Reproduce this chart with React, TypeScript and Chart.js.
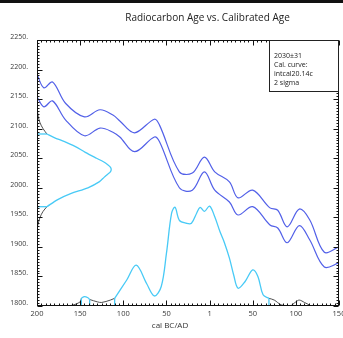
import React, { useEffect, useRef } from 'react';
import { Chart, registerables } from 'chart.js';

Chart.register(...registerables);

// ---- data ----
const titleText = 'Radiocarbon Age vs. Calibrated Age';
const xTitleText = 'cal BC/AD';
const legendLines = ['2030±31', 'Cal. curve:', 'intcal20.14c', '2 sigma'];

const X_MIN = -200;
const X_MAX = 150;
const Y_MIN = 1800;
const Y_MAX = 2250;
const X_MAJOR = 50;
const X_MINOR = 5;
const Y_MAJOR = 50;
const Y_MINOR = 5;

// calibration curve envelope (cal year, BC negative) -> 14C age
const calYears = [-200, -192, -182, -167, -145, -127, -112, -104, -87, -64, -58, -35, -20, -6, 6, 23, 33, 50, 70, 79, 90, 104, 116, 133, 150];
const calUpper = [2192, 2169, 2179, 2143, 2120, 2132, 2123, 2113, 2093, 2116, 2106, 2027, 2025, 2052, 2027, 2010, 1983, 1996, 1966, 1962, 1934, 1964, 1946, 1891, 1900];
const calLower = [2154, 2137, 2147, 2115, 2088, 2101, 2094, 2086, 2061, 2086, 2078, 2000, 1996, 2027, 1996, 1976, 1954, 1968, 1937, 1932, 1907, 1936, 1912, 1866, 1873];

// calibrated probability (height above baseline, in 14C-axis units)
const probYears = [-170, -160, -150, -148.6, -145, -141, -139, -130, -125, -115, -110, -96, -85, -73, -64, -56, -50, -44, -40, -35, -27, -21, -15, -11, -6, 0, 6, 12, 17, 23, 28, 33, 41, 50, 56, 62, 68.8, 75, 83, 93, 100, 104, 110, 118];
const probHeights = [0, 1, 7, 13, 16, 14, 11, 7, 6, 10, 13, 44, 69, 38, 17, 33, 89, 157, 167, 145, 140, 140, 157, 167, 160, 169, 151, 126, 108, 81, 52, 30, 41, 61, 50, 19, 13, 10, 2, 0, 7, 10, 6, 0];
const probIntervals = [[-148.6, -139], [-110, 68.8]];

// radiocarbon date distribution (14C age -> width in years from the left axis)
const c14Ages = [2135, 2128, 2120, 2110, 2100, 2091, 2085, 2078, 2070, 2060, 2050, 2044, 2039, 2035, 2031, 2027, 2023, 2018, 2010, 2000, 1990, 1980, 1968, 1960, 1950, 1940, 1932];
const c14Offsets = [0, 0.7, 1.5, 3.5, 7, 11.5, 20, 32, 44, 56, 69, 77, 82, 85, 86, 85, 82, 78, 72, 59, 39, 24, 11.5, 7, 3.5, 1.5, 0];
const c14RangeHigh = 2091;
const c14RangeLow = 1968;

const BLUE = 'rgb(82, 96, 232)';
const CYAN = 'rgb(72, 202, 246)';
const DARK = '#3a3a3a';
const FONT = '"Open Sans", "Noto Sans", sans-serif';

const framePlugin = {
  id: 'framePlugin',
  afterDatasetsDraw(chart: any) {
    const { ctx, chartArea, scales } = chart;
    const xs = scales.x;
    const ys = scales.y;
    const L = Math.round(chartArea.left) + 0.5;
    const R = Math.round(chartArea.right) - 0.5;
    const T = Math.round(chartArea.top) + 0.5;
    const B = Math.round(chartArea.bottom) - 0.5;
    ctx.save();
    ctx.strokeStyle = '#111';
    ctx.lineWidth = 1;
    ctx.beginPath();
    for (let v = X_MIN; v <= X_MAX; v += X_MINOR) {
      const px = Math.round(xs.getPixelForValue(v)) + 0.5;
      const len = v % X_MAJOR === 0 ? 5 : 2;
      ctx.moveTo(px, B); ctx.lineTo(px, B - len);
      ctx.moveTo(px, T); ctx.lineTo(px, T + len);
    }
    for (let v = Y_MIN; v <= Y_MAX; v += Y_MINOR) {
      const py = Math.round(ys.getPixelForValue(v)) + 0.5;
      const len = v % Y_MAJOR === 0 ? 5 : 2;
      ctx.moveTo(L, py); ctx.lineTo(L + len, py);
      ctx.moveTo(R, py); ctx.lineTo(R - len, py);
    }
    ctx.stroke();
    ctx.strokeRect(L, T, R - L, B - T);

    // legend box
    const bw = 69;
    const bh = 51;
    ctx.fillStyle = '#fff';
    ctx.fillRect(R - bw, T, bw, bh);
    ctx.strokeStyle = '#222';
    ctx.strokeRect(R - bw, T, bw, bh);
    ctx.fillStyle = '#222';
    ctx.font = `7px ${FONT}`;
    ctx.textAlign = 'left';
    ctx.textBaseline = 'middle';
    legendLines.forEach((s, i) => {
      ctx.fillText(s, R - bw + 4.5, T + 15 + i * 9);
    });

    // titles
    ctx.fillStyle = '#222';
    ctx.textAlign = 'center';
    ctx.font = `10px ${FONT}`;
    ctx.fillText(titleText, 207.5, 18);
    ctx.font = `8px ${FONT}`;
    ctx.fillStyle = '#333';
    ctx.fillText(xTitleText, 170, 326);
    ctx.restore();
  },
};

function pts(xsArr: number[], ysArr: number[]) {
  return xsArr.map((x, i) => ({ x, y: ysArr[i] }));
}

export default function App() {
  const ref = useRef<HTMLCanvasElement | null>(null);

  useEffect(() => {
    if (!ref.current) return;

    const line = (data: any[], color: string, width: number, tension = 0.35) => ({
      data,
      borderColor: color,
      borderWidth: width,
      pointRadius: 0,
      tension,
      fill: false,
    });

    const datasets: any[] = [];
    const probPts = probYears.map((x, i) => ({ x, y: Y_MIN + probHeights[i] }));
    const c14Pts = c14Ages.map((a, i) => ({ x: X_MIN + c14Offsets[i], y: a }));

    // cyan calibrated probability segments
    probIntervals.forEach(([a, b]) => {
      const seg = probPts.filter((p) => p.x >= a && p.x <= b);
      datasets.push(line(seg, CYAN, 1.3));
      const ha = probHeights[probYears.indexOf(a)];
      const hb = probHeights[probYears.indexOf(b)];
      datasets.push(line([{ x: a, y: Y_MIN }, { x: a, y: Y_MIN + ha }], CYAN, 1.3, 0));
      datasets.push(line([{ x: b, y: Y_MIN }, { x: b, y: Y_MIN + hb }], CYAN, 1.3, 0));
    });

    // black probability tails (outside the intervals)
    const bounds = [X_MIN - 1, ...probIntervals.flat(), X_MAX + 1];
    for (let k = 0; k < bounds.length; k += 2) {
      const lo = bounds[k];
      const hi = bounds[k + 1];
      const seg = probPts.filter((p) => p.x >= lo && p.x <= hi);
      if (seg.length > 1) datasets.push(line(seg, DARK, 0.9));
    }

    // cyan radiocarbon distribution (2 sigma)
    const c14Seg = c14Pts.filter((p) => p.y <= c14RangeHigh && p.y >= c14RangeLow);
    datasets.push(line(c14Seg, CYAN, 1.3, 0.3));
    const oh = c14Offsets[c14Ages.indexOf(c14RangeHigh)];
    const ol = c14Offsets[c14Ages.indexOf(c14RangeLow)];
    datasets.push(line([{ x: X_MIN, y: c14RangeHigh }, { x: X_MIN + oh, y: c14RangeHigh }], CYAN, 1.3, 0));
    datasets.push(line([{ x: X_MIN, y: c14RangeLow }, { x: X_MIN + ol, y: c14RangeLow }], CYAN, 1.3, 0));
    // black tails of radiocarbon distribution
    datasets.push(line(c14Pts.filter((p) => p.y >= c14RangeHigh), DARK, 0.9));
    datasets.push(line(c14Pts.filter((p) => p.y <= c14RangeLow), DARK, 0.9));

    // calibration curve
    datasets.push(line(pts(calYears, calUpper), BLUE, 1.2));
    datasets.push(line(pts(calYears, calLower), BLUE, 1.2));

    const chart = new Chart(ref.current, {
      type: 'line',
      data: { datasets },
      options: {
        responsive: false,
        animation: false,
        devicePixelRatio: 1,
        layout: { padding: { top: 40, right: 13, bottom: 0, left: 0 } },
        plugins: {
          legend: { display: false },
          tooltip: { enabled: false },
          title: { display: false },
        },
        scales: {
          x: {
            type: 'linear',
            min: X_MIN,
            max: X_MAX,
            grid: { display: false, drawTicks: false },
            border: { display: false },
            ticks: {
              stepSize: X_MAJOR,
              padding: 3,
              color: DARK,
              font: { family: FONT, size: 7.5 },
              maxRotation: 0,
              autoSkip: false,
              callback: (v: any) => (v === 0 ? '1' : String(Math.abs(v))),
            },
            afterFit: (s: any) => {
              s.height = 32;
              s.paddingLeft = 0;
              s.paddingRight = 0;
            },
          },
          y: {
            type: 'linear',
            min: Y_MIN,
            max: Y_MAX,
            grid: { display: false, drawTicks: false },
            border: { display: false },
            ticks: {
              stepSize: Y_MAJOR,
              padding: 9,
              labelOffset: -3,
              color: DARK,
              font: { family: FONT, size: 7 },
              autoSkip: false,
              callback: (v: any) => `${v}.`,
            },
            afterFit: (s: any) => {
              s.width = 37;
              s.paddingTop = 0;
              s.paddingBottom = 0;
            },
          },
        },
      },
      plugins: [framePlugin],
    } as any);

    return () => chart.destroy();
  }, []);

  return (
    <div style={{ position: 'absolute', left: 0, top: 0, width: 343, height: 338, overflow: 'hidden', background: '#fff' }}>
      <canvas ref={ref} width={352} height={338} style={{ position: 'absolute', left: 0, top: 0 }} />
      <div style={{ position: 'absolute', left: 0, top: 0, width: 343, height: 3, background: '#111' }} />
    </div>
  );
}
